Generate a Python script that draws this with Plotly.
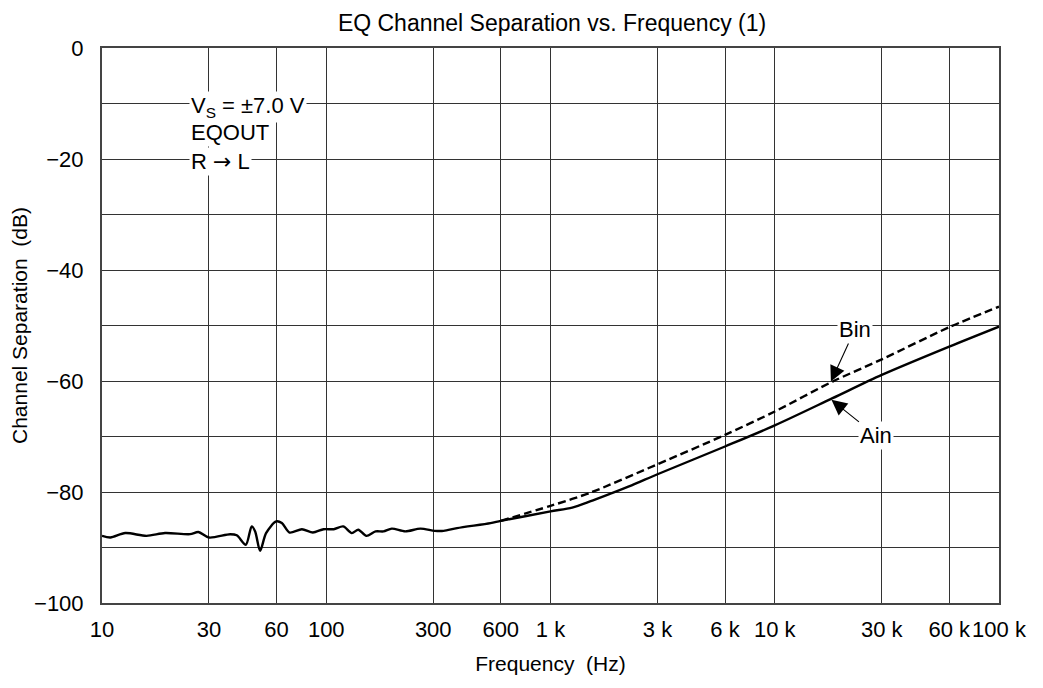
import numpy as np
import plotly.graph_objects as go

# Ain (solid) - channel separation, dB
ain_freq = [10, 10.9, 12.7, 15.8, 19.1, 24.7, 26.9, 30, 37.3, 39.9, 43.8, 46.5, 48.2,
            50.7, 53.9, 59.8, 63.4, 68.6, 77.9, 87.2, 97.3, 108, 119, 130, 139, 151,
            166, 180, 196, 225, 263, 305, 334, 383, 540, 600, 1000, 1250, 1500, 1850,
            2300, 3000, 6000, 10000, 18100, 30000, 60000, 100000]
ain_db = [-87.9, -88.2, -87.4, -87.9, -87.4, -87.6, -87.2, -88.2, -87.6, -87.8, -89.5,
          -86.2, -87.1, -90.6, -87.4, -85.3, -85.6, -87.3, -86.7, -87.3, -86.7, -86.7,
          -86.2, -87.4, -86.8, -87.9, -87.1, -87.1, -86.6, -87.1, -86.6, -87.0, -87.0,
          -86.5, -85.6, -85.2, -83.5, -82.8, -81.7, -80.3, -78.8, -76.8, -71.8, -68.0,
          -63.1, -58.9, -53.8, -50.2]

# Bin (dashed) - coincides with Ain below 600 Hz
bin_freq = [600, 1000, 1510, 3000, 6000, 10000, 18100, 30000, 60000, 100000]
bin_db = [-85.2, -82.5, -80.1, -75.0, -69.7, -65.5, -60.1, -56.1, -50.3, -46.6]

x_ticks = [10, 30, 60, 100, 300, 600, 1000, 3000, 6000, 10000, 30000, 60000, 100000]
x_labels = ["10", "30", "60", "100", "300", "600", "1 k", "3 k", "6 k", "10 k",
            "30 k", "60 k", "100 k"]
y_ticks = [0, -10, -20, -30, -40, -50, -60, -70, -80, -90, -100]
y_labels = ["0", " ", "\u221220", " ", "\u221240", " ", "\u221260", " ", "\u221280", " ",
            "\u2212100"]

FONT = "Liberation Sans, Arial, sans-serif"

fig = go.Figure()
fig.add_trace(go.Scatter(x=ain_freq, y=ain_db, mode="lines", name="Ain",
                         line=dict(color="black", width=2.4, shape="spline",
                                   smoothing=0.8)))
fig.add_trace(go.Scatter(x=bin_freq, y=bin_db, mode="lines", name="Bin",
                         line=dict(color="black", width=2.4, dash="8px,4px",
                                   shape="spline", smoothing=0.8)))

# condition text block, each line with its own white box
arrow = '<span style="font-family:DejaVu Sans">\u2192</span>'
cond = [("V<sub>S</sub> = \u00b17.0 V", -10.6), ("EQOUT", -15.2), (f"R {arrow} L", -20.4)]
for txt, yy in cond:
    fig.add_annotation(x=np.log10(24.5), y=yy, text=txt, showarrow=False,
                       xanchor="left", yanchor="middle", bgcolor="white",
                       borderpad=1, font=dict(size=22, color="black", family=FONT))

fig.add_annotation(x=np.log10(17800), y=-60.1, text="Bin", showarrow=True,
                   ax=24, ay=-52, arrowhead=2, arrowsize=2.8, arrowwidth=1.1,
                   arrowcolor="black", bgcolor="white", borderpad=1,
                   font=dict(size=22, color="black", family=FONT))
fig.add_annotation(x=np.log10(17900), y=-63.4, text="Ain", showarrow=True,
                   ax=45, ay=36, arrowhead=2, arrowsize=2.8, arrowwidth=1.1,
                   arrowcolor="black", bgcolor="white", borderpad=1,
                   font=dict(size=22, color="black", family=FONT))

fig.update_xaxes(type="log", range=[1, 5], tickvals=x_ticks, ticktext=x_labels,
                 tickangle=0, tickfont=dict(size=22),
                 showgrid=True, gridcolor="#333", gridwidth=1, zeroline=False,
                 showline=True, linecolor="#444", linewidth=2, mirror=True,
                 ticks="", ticklabelstandoff=6, automargin=False,
                 title=dict(text="Frequency\u00a0 (Hz)", standoff=15,
                            font=dict(size=21, family=FONT)))
fig.update_yaxes(range=[-100, 0], tickvals=y_ticks, ticktext=y_labels,
                 tickfont=dict(size=22),
                 showgrid=True, gridcolor="#333", gridwidth=1, zeroline=False,
                 showline=True, linecolor="#444", linewidth=2, mirror=True,
                 ticks="", ticklabelstandoff=12, automargin=False,
                 title=dict(text="Channel Separation\u00a0 (dB)", standoff=10,
                            font=dict(size=21, family=FONT)))

# the page body adds an 8px offset, so margins are shifted to compensate
fig.update_layout(
    width=1043, height=688,
    margin=dict(l=94, r=52, t=40, b=93, autoexpand=False),
    paper_bgcolor="white", plot_bgcolor="white",
    showlegend=False,
    font=dict(family=FONT, size=22, color="black"),
    title=dict(text="EQ Channel Separation vs. Frequency (1)", x=0.5216, xanchor="center",
               y=0.978, yanchor="middle", font=dict(size=23, family=FONT)),
)

fig.write_html("out.html")
